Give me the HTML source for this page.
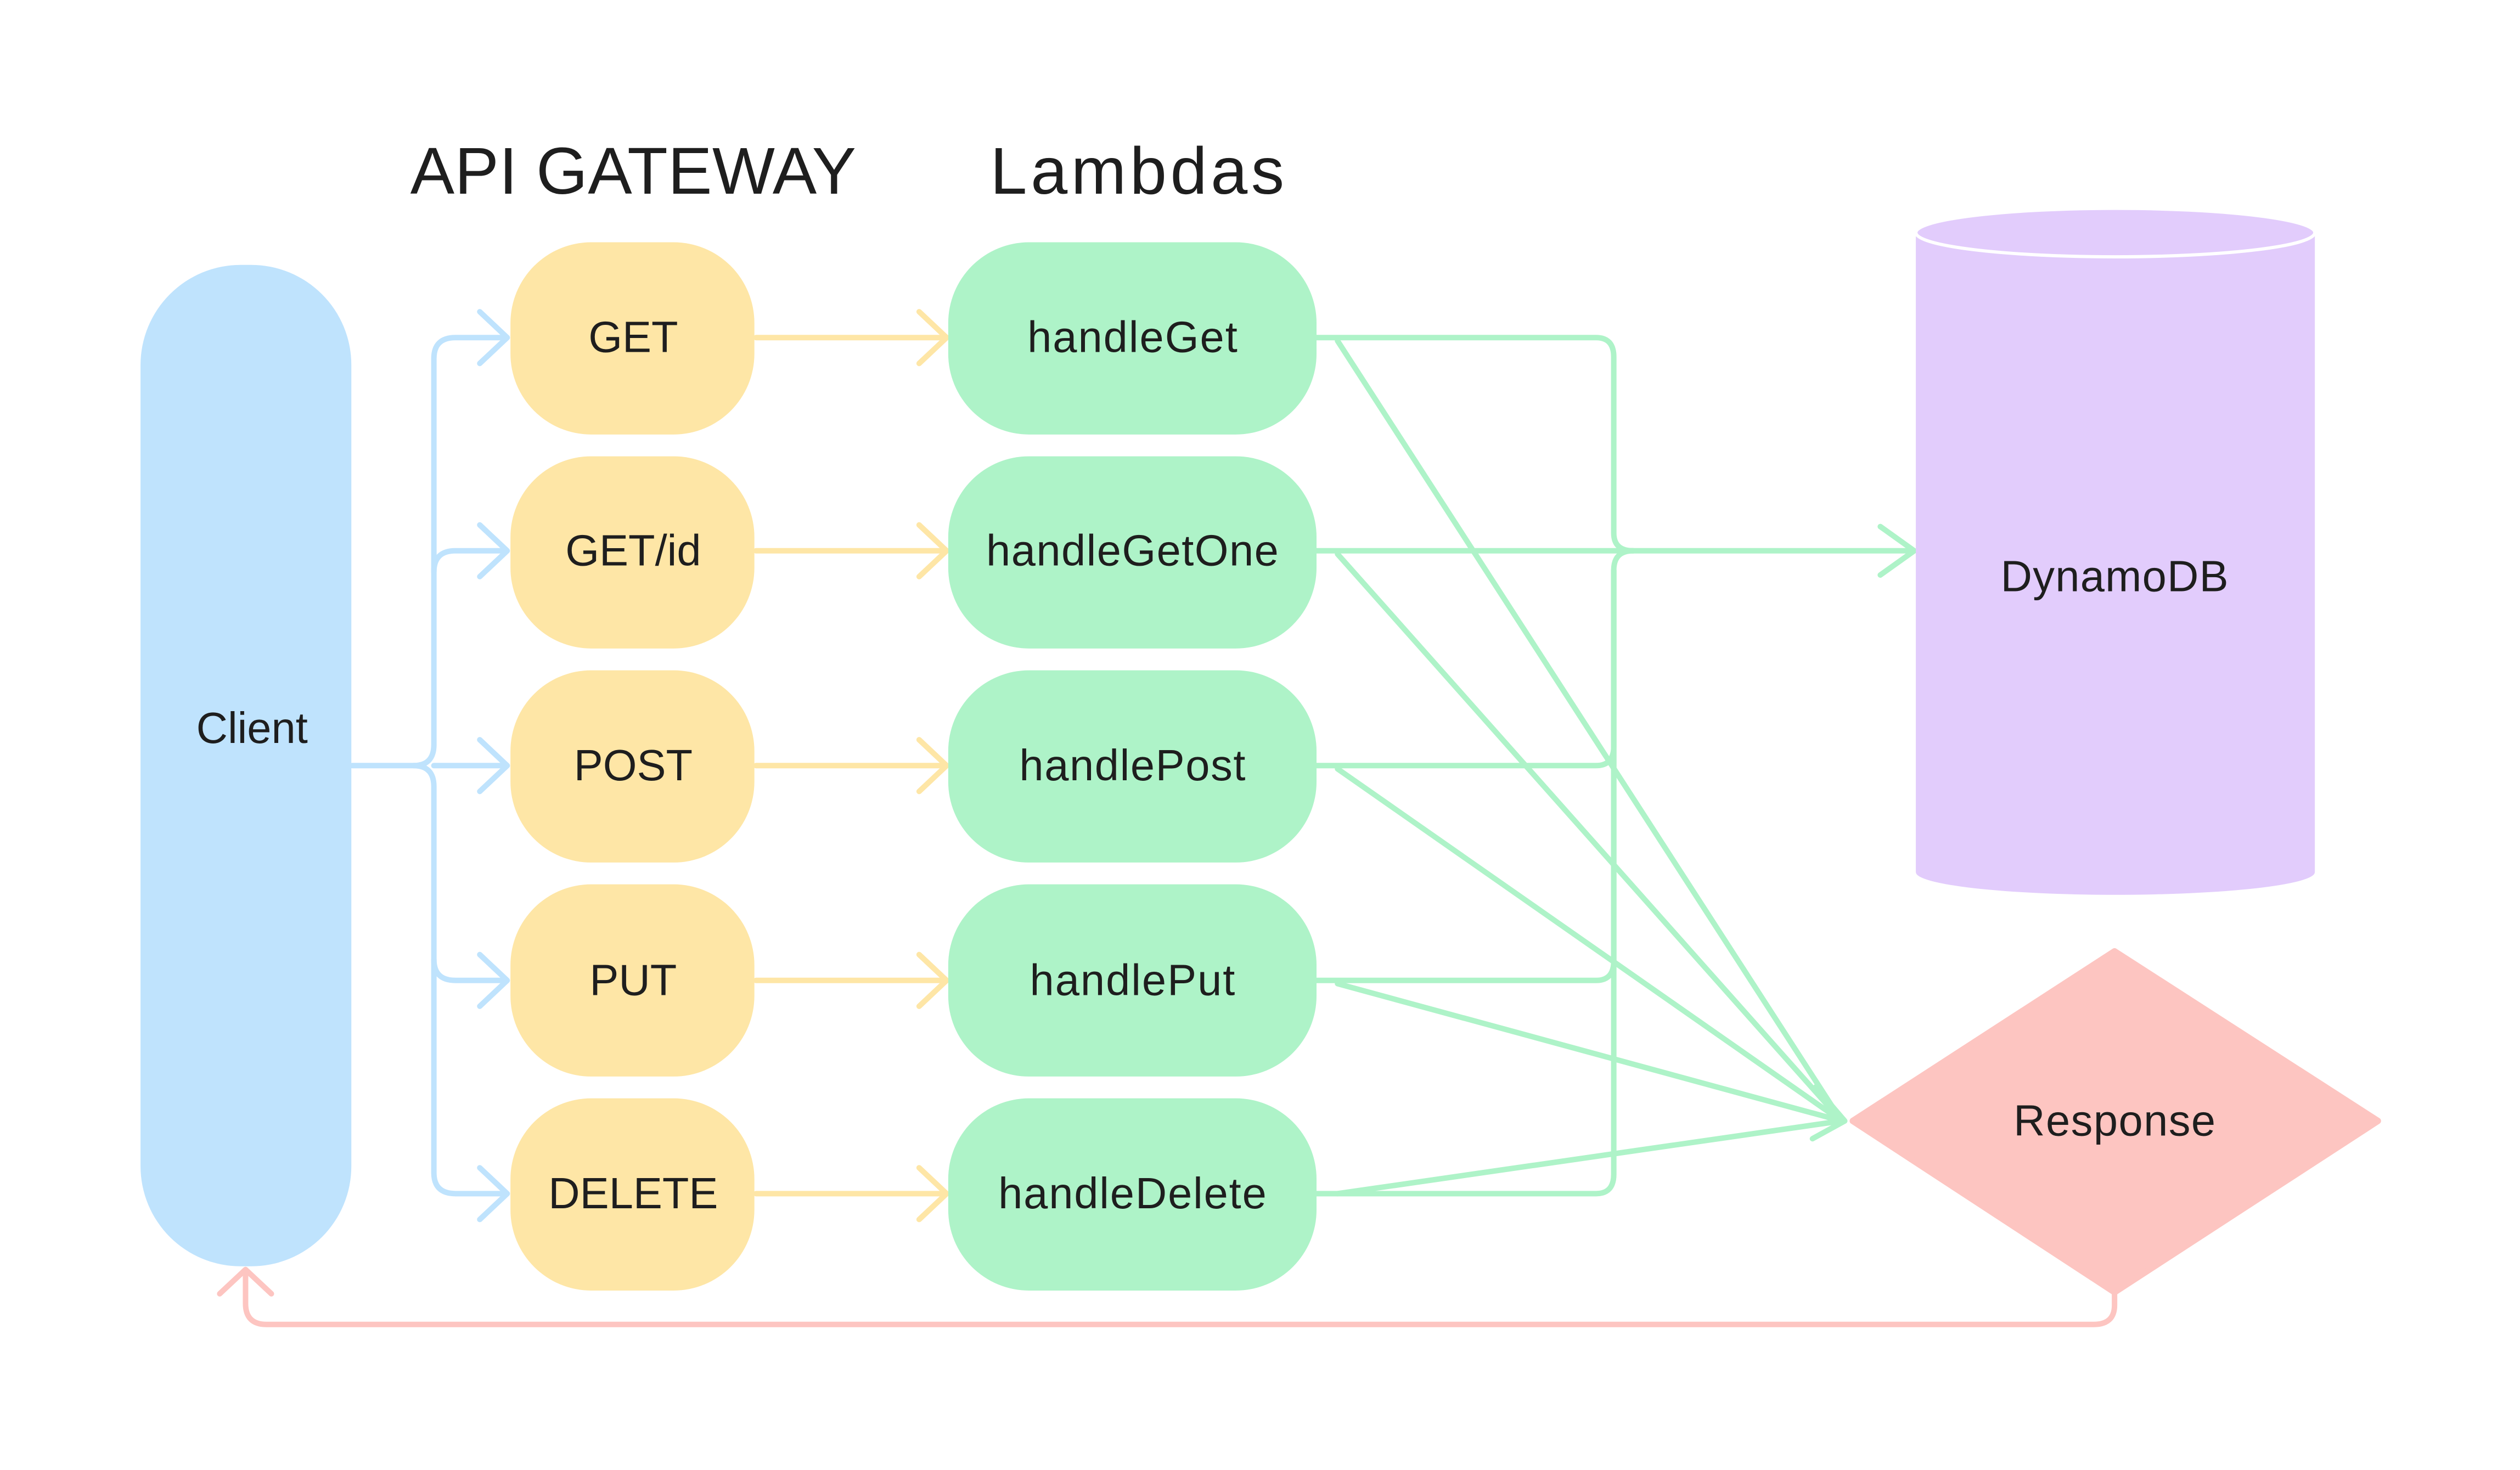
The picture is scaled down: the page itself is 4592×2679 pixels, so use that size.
<!DOCTYPE html>
<html><head><meta charset="utf-8"><style>
html,body{margin:0;padding:0;background:#fff;}
svg{display:block;}
text{font-family:"Liberation Sans",sans-serif;fill:#1e1e1e;}
</style></head><body>
<svg width="4592" height="2679" viewBox="0 0 1560 910.1" xmlns="http://www.w3.org/2000/svg">
<rect width="1560" height="911" fill="#fff"/>
<text x="392" y="120" font-size="41" text-anchor="middle" textLength="276">API GATEWAY</text>
<text x="704" y="120" font-size="41" text-anchor="middle" textLength="182">Lambdas</text>

<!-- green connectors -->
<g stroke="#aef3c8" stroke-width="3.4" fill="none" stroke-linecap="round" stroke-linejoin="round">
<path d="M815 209 H988 Q999 209 999 221 V330 Q999 341 1011 341"/>
<path d="M815 474 H988 Q999 474 999 462 V353 Q999 341 1011 341"/>
<path d="M815 607 H988 Q999 607 999 595 V353"/>
<path d="M815 739 H988 Q999 739 999 727 V353"/>
<path d="M815 341 H1184"/>
<path d="M1164 326 L1185 341 L1164 356"/>
<path d="M828 211 L1140 694"/>
<path d="M828 343 L1140 694"/>
<path d="M828 476 L1140 694"/>
<path d="M828 609 L1140 694"/>
<path d="M828 739 L1140 694"/>
<path d="M1124 673 L1142 694 L1122 705"/>
</g>

<!-- blue connectors -->
<g stroke="#bfe3fd" stroke-width="3.4" fill="none" stroke-linecap="round" stroke-linejoin="round">
<path d="M218 474 H256 Q268.6 474 268.6 461 V222 Q268.6 209 282 209 H313"/>
<path d="M256 474 Q268.6 474 268.6 487 V726 Q268.6 739 282 739 H313"/>
<path d="M268.6 354 Q268.6 341 282 341 H313"/>
<path d="M268.6 594 Q268.6 607 282 607 H313"/>
<path d="M268.6 474 H313"/>
<path d="M297 193 L314 209 L297 225 M297 325 L314 341 L297 357 M297 458 L314 474 L297 490 M297 591 L314 607 L297 623 M297 723 L314 739 L297 755"/>
</g>

<!-- yellow connectors -->
<g stroke="#fee6a6" stroke-width="3.4" fill="none" stroke-linecap="round" stroke-linejoin="round">
<path d="M468 209 H585 M468 341 H585 M468 474 H585 M468 607 H585 M468 739 H585"/>
<path d="M569 193 L586 209 L569 225 M569 325 L586 341 L569 357 M569 458 L586 474 L569 490 M569 591 L586 607 L569 623 M569 723 L586 739 L569 755"/>
</g>

<!-- red connector -->
<g stroke="#fdc5c1" stroke-width="3.4" fill="none" stroke-linecap="round" stroke-linejoin="round">
<path d="M1309 800 V808 Q1309 820 1296 820 H165 Q152 820 152 807 V787"/>
<path d="M136 801 L152 786 L168 801"/>
</g>

<!-- Client -->
<rect x="87" y="164" width="130.5" height="620" rx="62" fill="#bfe3fd"/>
<text x="156" y="460" font-size="27" text-anchor="middle">Client</text>

<!-- gateway -->
<g fill="#fee6a6">
<rect x="316" y="150" width="151" height="119" rx="50"/>
<rect x="316" y="282.5" width="151" height="119" rx="50"/>
<rect x="316" y="415" width="151" height="119" rx="50"/>
<rect x="316" y="547.5" width="151" height="119" rx="50"/>
<rect x="316" y="680" width="151" height="119" rx="50"/>
</g>
<g font-size="27" text-anchor="middle">
<text x="392" y="218">GET</text>
<text x="392" y="350">GET/id</text>
<text x="392" y="483">POST</text>
<text x="392" y="616">PUT</text>
<text x="392" y="748">DELETE</text>
</g>

<!-- lambdas -->
<g fill="#aef3c8">
<rect x="587" y="150" width="228" height="119" rx="50"/>
<rect x="587" y="282.5" width="228" height="119" rx="50"/>
<rect x="587" y="415" width="228" height="119" rx="50"/>
<rect x="587" y="547.5" width="228" height="119" rx="50"/>
<rect x="587" y="680" width="228" height="119" rx="50"/>
</g>
<g font-size="27" text-anchor="middle">
<text x="701" y="218" textLength="130">handleGet</text>
<text x="701" y="350" textLength="181">handleGetOne</text>
<text x="701" y="483" textLength="140">handlePost</text>
<text x="701" y="616" textLength="127">handlePut</text>
<text x="701" y="748" textLength="166">handleDelete</text>
</g>

<!-- DynamoDB -->
<path d="M1186 144 V540 A123.5 14 0 0 0 1433 540 V144 Z" fill="#e2ccfc"/>
<ellipse cx="1309.5" cy="144" rx="123.5" ry="15" fill="#e2ccfc" stroke="#fff" stroke-width="2"/>
<text x="1309" y="366" font-size="27" text-anchor="middle" textLength="141">DynamoDB</text>

<!-- Response -->
<path d="M1309 589 L1472 694 L1309 800 L1147 694 Z" fill="#fdc5c1" stroke="#fdc5c1" stroke-width="4" stroke-linejoin="round"/>
<text x="1309" y="703" font-size="27" text-anchor="middle" textLength="125">Response</text>
</svg>
</body></html>
